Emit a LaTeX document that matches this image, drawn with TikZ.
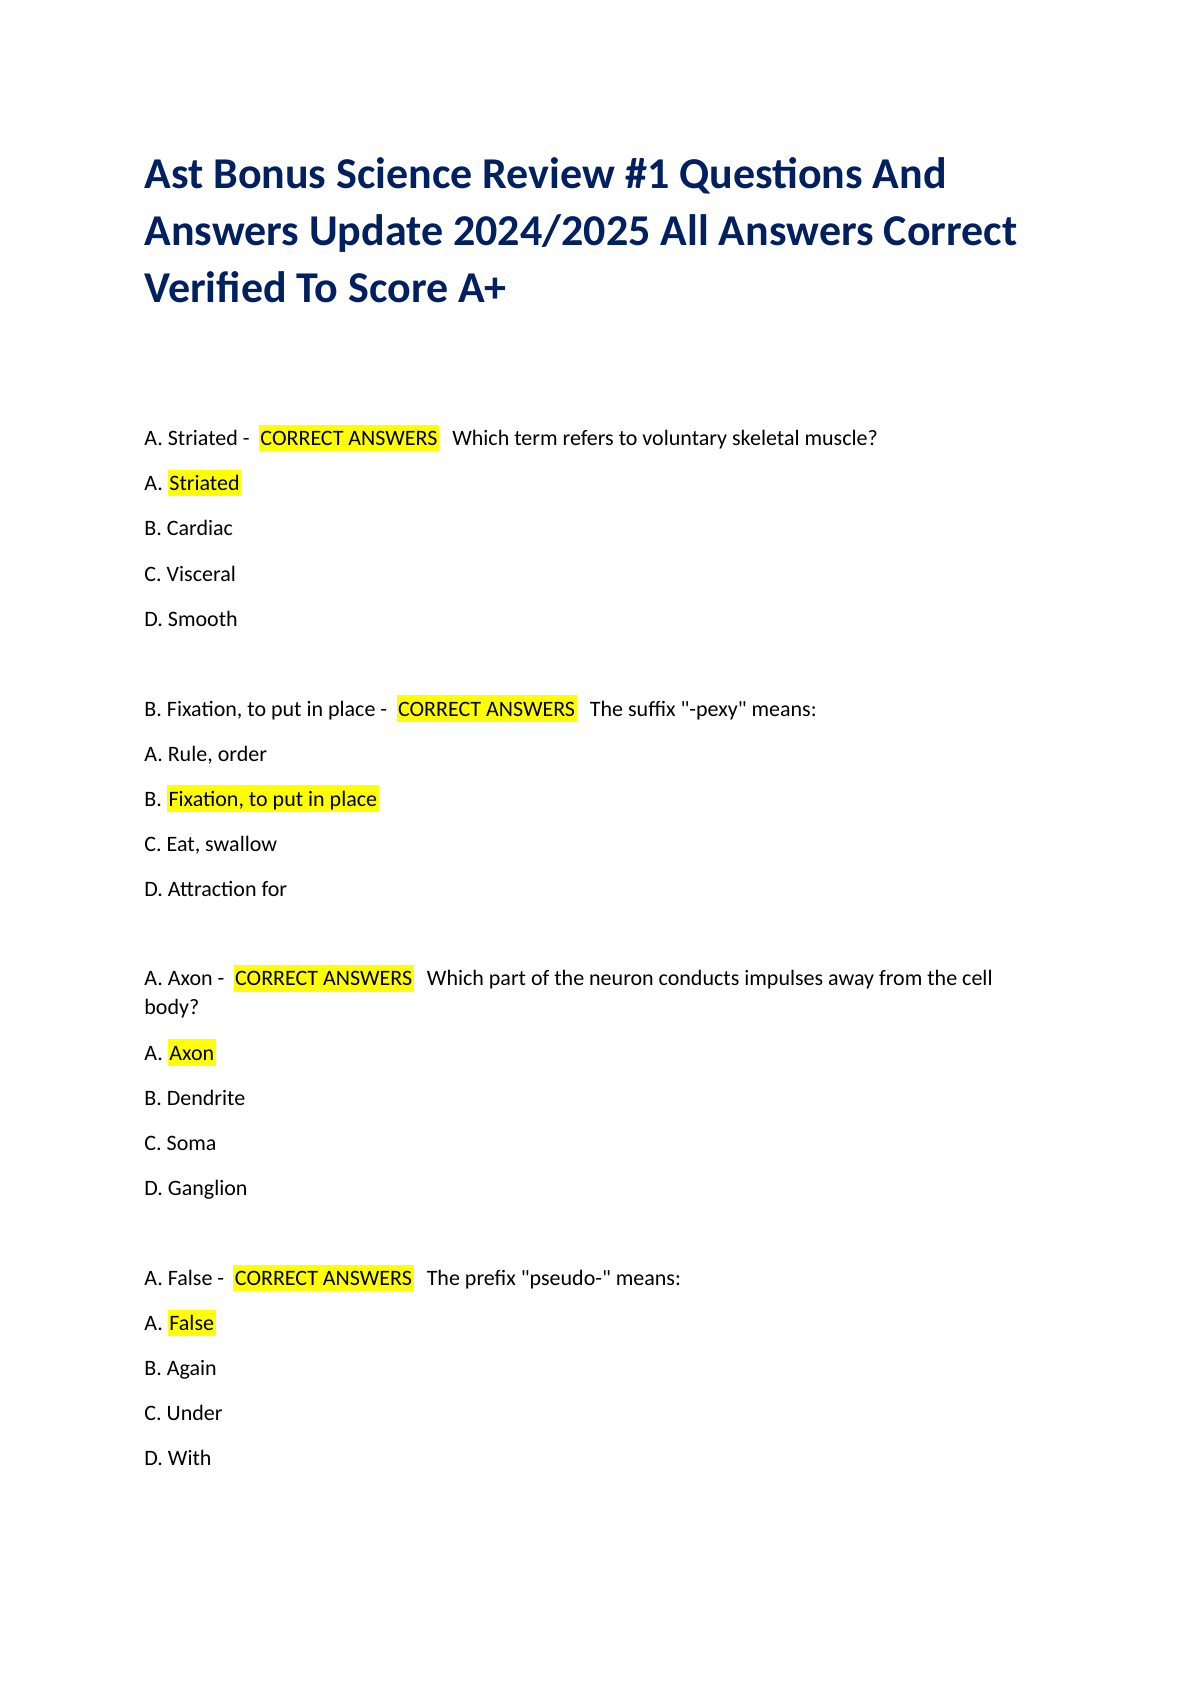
\documentclass[tikz,border=0pt]{standalone}
\usepackage{fontspec}
\usepackage{xcolor}
\setmainfont{Carlito}
\definecolor{titleblue}{RGB}{0,32,96}
\definecolor{hlyellow}{RGB}{255,255,0}
\newcommand{\hlt}[1]{{\setlength{\fboxsep}{0pt}\colorbox{hlyellow}{\rule[-2.8pt]{0pt}{13.3pt}\kern0.8pt#1\kern0.8pt}}}

\begin{document}
\begin{tikzpicture}[x=1pt,y=1pt,
  title/.style={anchor=base west,inner sep=0pt,font=\fontsize{22}{26}\selectfont\bfseries,text=titleblue},
  line/.style={anchor=base west,inner sep=0pt,font=\fontsize{11}{13}\selectfont}]
\useasboundingbox [fill=white] (0,0) rectangle (595.3,-841.9);

% title
\node [title] (t1) at (72,-94.0) {Ast Bonus Science Review \#1 Questions And};
\node [title] (t2) at (72,-122.7) {Answers Update 2024/2025 All Answers Correct};
\node [title] (t3) at (72,-151.4) {Verified To Score A+};

% question 1
\node [line] (q1) at (72,-222.8) {A. Striated -\hspace{4.6pt}\hlt{CORRECT ANSWERS}\hspace{6.6pt}Which term refers to voluntary skeletal muscle?};
\node [line] (q1a) at (72,-245.4) {A. \hlt{Striated}};
\node [line] (q1b) at (72,-267.9) {B. Cardiac};
\node [line] (q1c) at (72,-290.5) {C. Visceral};
\node [line] (q1d) at (72,-313.0) {D. Smooth};

% question 2
\node [line] (q2) at (72,-358.1) {B. Fixation, to put in place -\hspace{4.6pt}\hlt{CORRECT ANSWERS}\hspace{6.6pt}The suffix \textquotedbl-pexy\textquotedbl{} means:};
\node [line] (q2a) at (72,-380.7) {A. Rule, order};
\node [line] (q2b) at (72,-403.2) {B. \hlt{Fixation, to put in place}};
\node [line] (q2c) at (72,-425.8) {C. Eat, swallow};
\node [line] (q2d) at (72,-448.3) {D. Attraction for};

% question 3
\node [line] (q3) at (72,-492.9) {A. Axon -\hspace{4.6pt}\hlt{CORRECT ANSWERS}\hspace{6.6pt}Which part of the neuron conducts impulses away from the cell};
\node [line] (q3w) at (72,-507.4) {body?};
\node [line] (q3a) at (72,-530.0) {A. \hlt{Axon}};
\node [line] (q3b) at (72,-552.5) {B. Dendrite};
\node [line] (q3c) at (72,-575.1) {C. Soma};
\node [line] (q3d) at (72,-597.6) {D. Ganglion};

% question 4
\node [line] (q4) at (72,-642.7) {A. False -\hspace{4.6pt}\hlt{CORRECT ANSWERS}\hspace{6.6pt}The prefix \textquotedbl pseudo-\textquotedbl{} means:};
\node [line] (q4a) at (72,-665.3) {A. \hlt{False}};
\node [line] (q4b) at (72,-687.8) {B. Again};
\node [line] (q4c) at (72,-710.4) {C. Under};
\node [line] (q4d) at (72,-732.9) {D. With};
\end{tikzpicture}
\end{document}
